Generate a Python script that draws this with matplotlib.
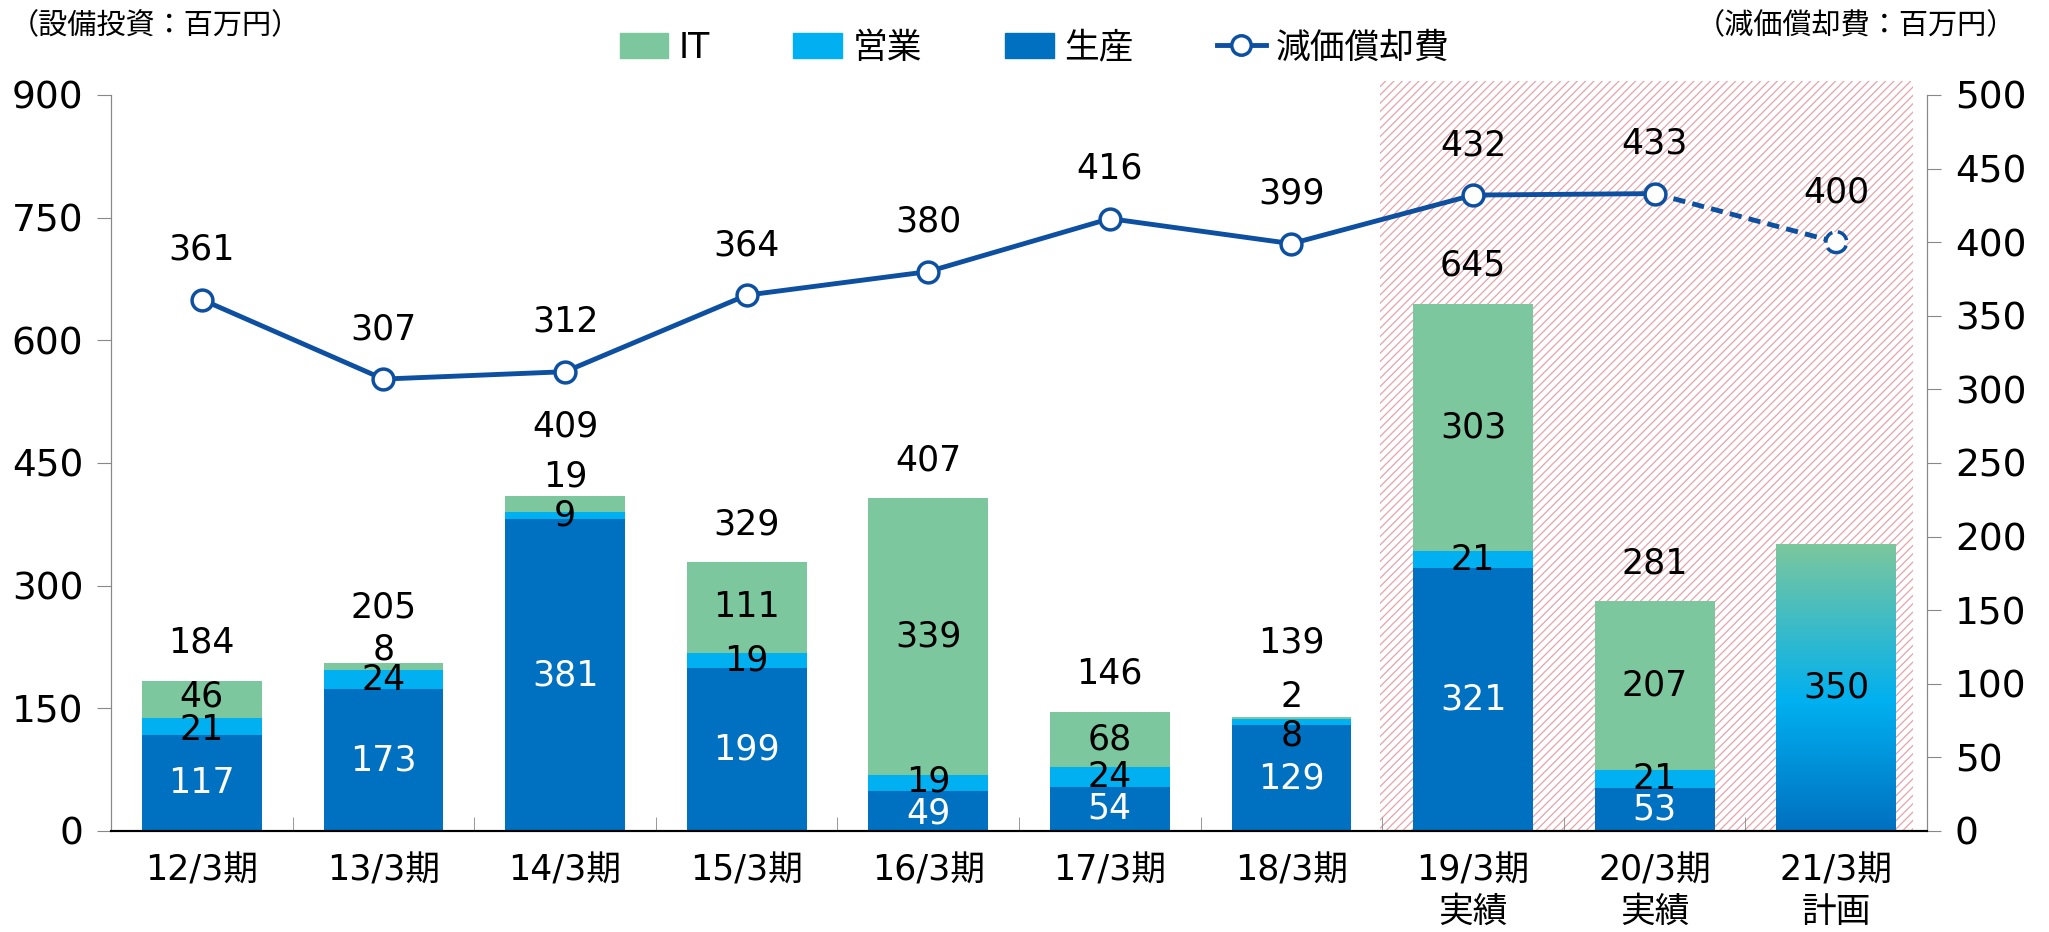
import matplotlib
matplotlib.use("Agg")
import matplotlib.pyplot as plt
import numpy as np
from matplotlib.patches import Patch, Rectangle
from matplotlib.lines import Line2D
from matplotlib.colors import LinearSegmentedColormap

plt.rcParams['font.family'] = ['DejaVu Sans', 'Noto Sans CJK JP']
plt.rcParams['hatch.linewidth'] = 0.9

# data
periods = ["12/3期", "13/3期", "14/3期", "15/3期", "16/3期", "17/3期", "18/3期",
           "19/3期\n実績", "20/3期\n実績", "21/3期\n計画"]
seisan = [117, 173, 381, 199, 49, 54, 129, 321, 53]       # 生産
eigyo = [21, 24, 9, 19, 19, 24, 8, 21, 21]                 # 営業
it = [46, 8, 19, 111, 339, 68, 2, 303, 207]                # IT
plan_total = 350                                           # 21/3期 計画 (breakdown not given)
depreciation = [361, 307, 312, 364, 380, 416, 399, 432, 433, 400]

c_it = '#7CC79D'
c_eigyo = '#00B0F0'
c_seisan = '#0070C0'
c_line = '#0D4FA0'
fs = 25

# labels that sit away from the middle of their segment (y in data units)
label_y = {('eigyo', 0): 123, ('it', 0): 164,
           ('it', 1): 222, ('total', 1): 273,
           ('it', 2): 433, ('total', 2): 495,
           ('eigyo', 4): 60, ('seisan', 4): 21,
           ('it', 6): 164, ('eigyo', 6): 117, ('total', 6): 231}

fig = plt.figure(figsize=(20.49, 9.32), dpi=100)
ax = fig.add_axes([0.0542, 0.1084, 0.8863, 0.7897])
ax2 = ax.twinx()

x = np.arange(len(periods))
xa = x[:len(seisan)]
w = 0.66

# shaded area for 19/3 - 21/3
ax.add_patch(Rectangle((6.49, 0), 2.93, 917, facecolor='none', edgecolor='#E6A3AA',
                       hatch='////', linewidth=0, zorder=0, clip_on=False))

bottom2 = np.array(seisan) + np.array(eigyo)
totals = bottom2 + np.array(it)
ax.bar(xa, seisan, w, color=c_seisan, zorder=2)
ax.bar(xa, eigyo, w, bottom=seisan, color=c_eigyo, zorder=2)
ax.bar(xa, it, w, bottom=bottom2, color=c_it, zorder=2)

# gradient bar for the plan
cmap = LinearSegmentedColormap.from_list('plan', [(0, '#0070C0'), (0.45, '#00B0F0'), (1, '#7CC79D')])
ax.imshow(np.linspace(0, 1, 256).reshape(-1, 1), cmap=cmap, origin='lower', aspect='auto',
          extent=[x[-1] - w / 2, x[-1] + w / 2, 0, plan_total], zorder=2)
ax.text(x[-1], plan_total / 2, str(plan_total), ha='center', va='center', fontsize=fs, zorder=5)

for i in range(len(seisan)):
    s, e, t = seisan[i], eigyo[i], it[i]
    ax.text(i, label_y.get(('seisan', i), s / 2), str(s), ha='center', va='center',
            fontsize=fs, color='white', zorder=5)
    ax.text(i, label_y.get(('eigyo', i), s + e / 2), str(e), ha='center', va='center',
            fontsize=fs, zorder=5)
    ax.text(i, label_y.get(('it', i), s + e + t / 2), str(t), ha='center', va='center',
            fontsize=fs, zorder=5)
    ax.text(i, label_y.get(('total', i), totals[i] + 46), str(totals[i]), ha='center',
            va='center', fontsize=fs, zorder=5)

ax.set_xlim(-0.5, len(periods) - 0.5)
ax.set_ylim(0, 900)
ax.set_yticks(np.arange(0, 901, 150))
ax.set_xticks(x, periods, linespacing=1.3)
ax.set_xticks(np.arange(-0.5, len(periods), 1), minor=True)
ax.tick_params(axis='x', which='major', length=0, labelsize=25, pad=16)
ax.tick_params(axis='x', which='minor', direction='in', length=10, color='#888888')
ax.tick_params(axis='y', length=10, color='#888888', labelsize=27, pad=10)

# depreciation line
ax2.plot(x[:-1], depreciation[:-1], color=c_line, lw=3.5, zorder=3)
ax2.plot(x[-2:], depreciation[-2:], color=c_line, lw=3.5, ls=(0, (2.5, 1.5)), zorder=3)
ax2.plot(x[:-1], depreciation[:-1], 'o', ms=15, mfc='white', mec=c_line, mew=2.5, zorder=4)
ax2.scatter([x[-1]], [depreciation[-1]], s=225, facecolor='white', edgecolor=c_line,
            linewidths=2.5, linestyle='--', zorder=4)
for i, v in enumerate(depreciation):
    ax2.annotate(str(v), (i, v), xytext=(0, 36), textcoords='offset points',
                 ha='center', va='center', fontsize=fs)
ax2.set_ylim(0, 500)
ax2.set_yticks(np.arange(0, 501, 50))
ax2.tick_params(axis='y', length=10, color='#888888', labelsize=27, pad=10)

for a in (ax, ax2):
    a.spines['top'].set_visible(False)
    a.spines['left'].set_color('#888888')
    a.spines['right'].set_color('#888888')
    a.spines['bottom'].set_color('black')
    a.spines['bottom'].set_linewidth(1.5)

fig.text(0.005, 0.972, "（設備投資：百万円）", fontsize=21, ha='left', va='center')
fig.text(0.984, 0.972, "（減価償却費：百万円）", fontsize=21, ha='right', va='center')

handles = [Patch(color=c_it), Patch(color=c_eigyo), Patch(color=c_seisan),
           Line2D([], [], color=c_line, lw=3.5, marker='o', ms=14, mfc='white', mec=c_line, mew=2.5)]
fig.legend(handles, ["IT", "営業", "生産", "減価償却費"], loc='center', bbox_to_anchor=(0.505, 0.949),
           ncol=4, frameon=False, fontsize=25, handlelength=1.4, handleheight=0.75,
           columnspacing=2.4, handletextpad=0.3)

fig.savefig("out.png", dpi=100)
